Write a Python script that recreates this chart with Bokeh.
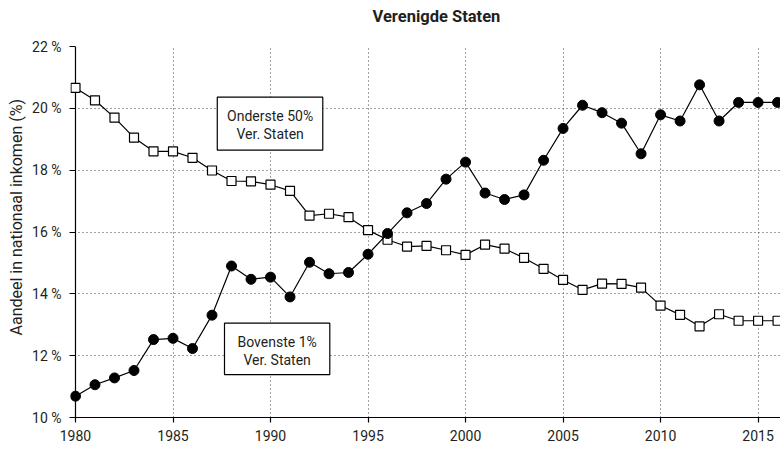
from bokeh.plotting import figure
from bokeh.models import (Range1d, BoxAnnotation, Label, FixedTicker, Span,
                          PrintfTickFormatter, Title)
from bokeh.embed import file_html
from bokeh.resources import INLINE

years = list(range(1980, 2017))
bottom50 = [20.66, 20.26, 19.70, 19.05, 18.61, 18.61, 18.40, 17.99, 17.65, 17.64,
            17.53, 17.33, 16.53, 16.59, 16.48, 16.06, 15.75, 15.53, 15.55, 15.41,
            15.26, 15.59, 15.46, 15.16, 14.81, 14.45, 14.13, 14.33, 14.32, 14.20,
            13.62, 13.32, 12.95, 13.34, 13.13, 13.13, 13.13]
top1 = [10.69, 11.06, 11.28, 11.52, 12.52, 12.56, 12.23, 13.31, 14.90, 14.47,
        14.54, 13.90, 15.02, 14.65, 14.69, 15.28, 15.95, 16.62, 16.92, 17.71,
        18.26, 17.26, 17.05, 17.20, 18.32, 19.35, 20.10, 19.86, 19.52, 18.53,
        19.79, 19.59, 20.76, 19.59, 20.19, 20.19, 20.19]
x_ticks = [1980, 1985, 1990, 1995, 2000, 2005, 2010, 2015]
y_ticks = [10, 12, 14, 16, 18, 20, 22]
title_text = "Verenigde Staten"
y_label = "Aandeel in nationaal inkomen (%)"
label_bottom = ["Onderste 50%", "Ver. Staten"]
label_top = ["Bovenste 1%", "Ver. Staten"]

FONT = "Roboto"
TXT = "#231f20"

p = figure(width=780, height=452, output_backend="svg", toolbar_location=None,
           x_range=Range1d(1979.744, 2016.15), y_range=Range1d(10, 22),
           min_border_left=69, min_border_right=0, min_border_top=46,
           min_border_bottom=35)
p.outline_line_color = None
p.background_fill_color = "white"

p.title.text = title_text
p.title.align = "left"
p.title.offset = 302
p.title.standoff = 0
p.title.text_font = FONT
p.title.text_font_size = "16.5px"
p.title.text_font_style = "bold"
p.title.text_color = TXT

# empty spacer title between the main title and the frame
spacer = Title(text=" ", text_font_size="10px", standoff=8)
p.add_layout(spacer, "above")

# y-axis label as a side title (allows shifting along the axis)
ylab = Title(text=y_label, align="left", offset=82, standoff=8,
             text_font=FONT, text_font_size="16px", text_font_style="normal",
             text_color=TXT)
p.add_layout(ylab, "left")

# axes
for ax in (p.xaxis[0], p.yaxis[0]):
    ax.axis_line_color = "black"
    ax.axis_line_width = 1.2
    ax.major_tick_line_color = "black"
    ax.major_tick_line_width = 1.2
    ax.minor_tick_line_color = None
    ax.major_label_text_font = FONT
    ax.major_label_text_font_size = "14px"
    ax.major_label_text_color = TXT

p.xaxis.ticker = FixedTicker(ticks=x_ticks)
p.xaxis.major_tick_in = 0
p.xaxis.major_tick_out = 5
p.xaxis.major_label_standoff = 7

p.yaxis.ticker = FixedTicker(ticks=y_ticks)
p.yaxis.formatter = PrintfTickFormatter(format="%d %%")
p.yaxis.axis_line_color = None
p.yaxis.major_tick_in = 5
p.yaxis.major_tick_out = 1
p.yaxis.major_label_standoff = 8

# grid
p.xgrid.ticker = FixedTicker(ticks=x_ticks)
p.ygrid.ticker = FixedTicker(ticks=y_ticks)
for g in (p.xgrid[0], p.ygrid[0]):
    g.grid_line_color = "#444444"
    g.grid_line_dash = "1 3"
    g.grid_line_width = 1

# y-axis spine at 1980
p.add_layout(Span(location=x_ticks[0], dimension="height", line_color="black",
                  line_width=1.2, level="underlay"))

# series
p.line(years, bottom50, line_color="black", line_width=1.2)
p.scatter(years, bottom50, marker="square", size=9, fill_color="white",
          line_color="black", line_width=1.2)
p.line(years, top1, line_color="black", line_width=1.2)
p.scatter(years, top1, marker="circle", size=10, fill_color="black",
          line_color="black", line_width=1)

# annotation boxes
box1 = BoxAnnotation(left=1987.27, right=1992.68, top=20.36, bottom=18.65,
                     fill_color="white", fill_alpha=1, line_color="black",
                     line_width=1.2, line_alpha=1)
box2 = BoxAnnotation(left=1987.64, right=1993.04, top=13.05, bottom=11.39,
                     fill_color="white", fill_alpha=1, line_color="black",
                     line_width=1.2, line_alpha=1)
p.add_layout(box1)
p.add_layout(box2)

for (xc, ys, texts) in [(1989.98, [19.75, 19.16], label_bottom),
                        (1990.34, [12.44, 11.85], label_top)]:
    for yv, t in zip(ys, texts):
        p.add_layout(Label(x=xc, y=yv, text=t, text_align="center",
                           text_baseline="middle", text_font=FONT,
                           text_font_size="14px", text_color=TXT))

open("out.html", "w").write(file_html(p, INLINE))
